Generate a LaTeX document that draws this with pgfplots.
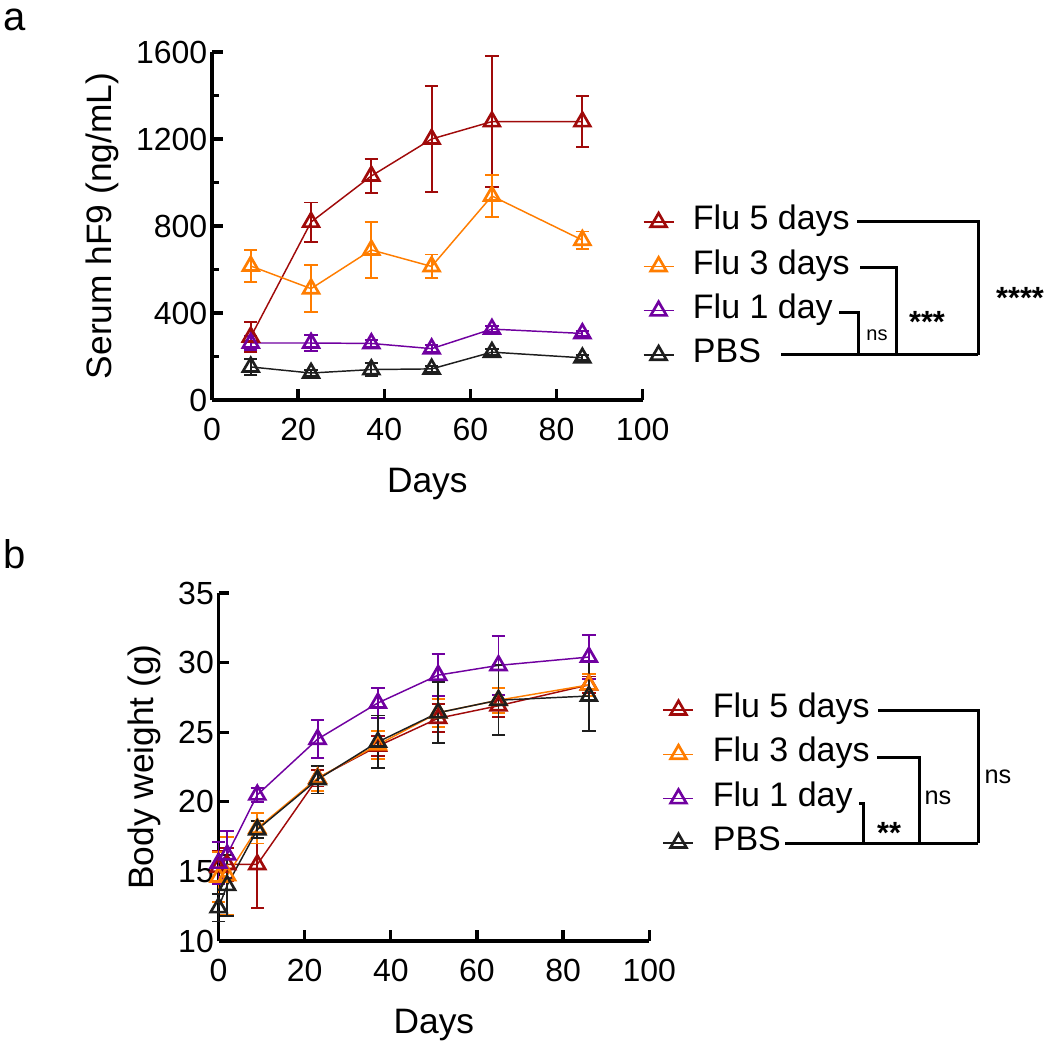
\documentclass[border=0pt]{standalone}
\usepackage{fontspec}
\setmainfont{Liberation Sans}
\usepackage{pgfplots}
\pgfplotsset{compat=1.18}

\definecolor{cFive}{RGB}{160,10,10}
\definecolor{cThree}{RGB}{255,125,0}
\definecolor{cOne}{RGB}{112,0,160}
\definecolor{cPBS}{RGB}{30,30,30}

\pgfplotsset{
  panel/.style={
    scale only axis, width=323pt, height=261pt,
    axis x line*=bottom, axis y line*=left,
    axis line style={line width=2.5pt, black},
    tick style={line width=2.5pt, black},
    tick align=inside,
    major tick length=8pt, minor tick length=5pt,
    xmin=0, xmax=100, xtick={0,20,...,100},
    ticklabel style={font=\fontsize{24}{28}\selectfont},
    xticklabel style={yshift=-10pt},
    /pgf/number format/assume math mode=true,
    /pgf/number format/1000 sep={},
    label style={font=\fontsize{26.5}{30}\selectfont},
    xlabel style={yshift=-14pt},
    ylabel style={yshift=6pt},
    xlabel={Days},
    clip=false,
    legend style={draw=none, fill=none, inner sep=0pt, row sep=10.75pt, column sep=14pt,
      nodes={inner sep=0pt, text height=17pt, text depth=5.5pt, anchor=west},
      font=\fontsize{25.5}{29}\selectfont},
    legend cell align=left,
    legend image code/.code={\draw[mark repeat=2, mark phase=2, line width=1pt]
      plot coordinates {(0pt,0pt) (11.25pt,0pt) (22.5pt,0pt)};},
  },
  grp/.style={color=#1, line width=1.1pt, mark=triangle, mark size=6.8pt,
    mark options={line width=2pt, solid},
    error bars/y dir=both, error bars/y explicit,
    error bars/error bar style={line width=1.4pt, color=#1},
    error bars/error mark options={rotate=90, mark size=5pt, line width=1.4pt, color=#1}},
}

\begin{document}
\begin{tikzpicture}
\useasboundingbox (0pt,0pt) rectangle (787.5pt,-780.75pt);

% panel a
\begin{axis}[panel, at={(159pt,-300pt)}, anchor=south west,
  ymin=0, ymax=1600, ytick={0,400,...,1600}, minor ytick={200,600,1000,1400},
  ylabel={Serum hF9 (ng/mL)},
  legend style={at={(axis description cs:1.0,0.32)}, anchor=west}]
\addplot[grp=cFive] table[x=d, y=v, y error=e] {
d v e
9 290 70
23 818 90
37 1030 80
51 1200 245
65 1280 300
86 1280 117
};
\addplot[grp=cThree] table[x=d, y=v, y error=e] {
d v e
9 616 73
23 512 107
37 690 130
51 614 55
65 938 95
86 735 40
};
\addplot[grp=cOne] table[x=d, y=v, y error=e] {
d v e
9 262 32
23 262 35
37 260 15
51 236 15
65 326 15
86 306 12
};
\addplot[grp=cPBS] table[x=d, y=v, y error=e] {
d v e
9 152 38
23 124 15
37 140 30
51 143 15
65 220 15
86 194 12
};
\legend{Flu 5 days, Flu 3 days, Flu 1 day, PBS}
\end{axis}

% panel b
\begin{axis}[panel, at={(163.9pt,-705.75pt)}, anchor=south west,
  ymin=10, ymax=35, ytick={10,15,...,35},
  ylabel={Body weight (g)},
  legend style={at={(axis description cs:1.031,0.473)}, anchor=west}]
\addplot[grp=cFive] table[x=d, y=v, y error=e] {
d v e
0 15.3 1.2
2 15.5 1.2
9 15.5 3.1
23 21.7 0.6
37 24.0 0.7
51 26.0 1.0
65 26.9 0.8
86 28.4 0.6
};
\addplot[grp=cThree] table[x=d, y=v, y error=e] {
d v e
0 14.6 1.8
2 14.7 2.8
9 18.1 1.1
23 21.7 0.9
37 24.1 1.0
51 26.4 1.0
65 27.3 0.9
86 28.4 0.8
};
\addplot[grp=cOne] table[x=d, y=v, y error=e] {
d v e
0 15.6 1.5
2 16.2 1.7
9 20.5 0.5
23 24.5 1.35
37 27.1 1.1
51 29.1 1.5
65 29.8 2.1
86 30.4 1.6
};
\addplot[grp=cPBS] table[x=d, y=v, y error=e] {
d v e
0 12.4 1.0
2 14.0 2.2
9 18.0 0.6
23 21.6 1.0
37 24.3 1.9
51 26.4 2.2
65 27.3 2.5
86 27.6 2.5
};
\legend{Flu 5 days, Flu 3 days, Flu 1 day, PBS}
\end{axis}

% panel letters, significance brackets
\begin{scope}[x=0.75pt, y=-0.75pt, line width=2.25pt]
\node[anchor=base west, inner sep=0pt, font=\fontsize{30}{34}\selectfont] at (2,31) {a};
\node[anchor=base west, inner sep=0pt, font=\fontsize{30}{34}\selectfont] at (2,568) {b};

\draw (857,222) -- (978,222) -- (978,355);
\draw (860,268) -- (896,268) -- (896,355);
\draw (839,313) -- (858,313) -- (858,355);
\draw (781,355) -- (978,355);
\node[inner sep=0pt, font=\fontsize{15}{17}\selectfont] at (877,335) {ns};
\node[anchor=base, inner sep=0pt, font=\bfseries\fontsize{23}{26}\selectfont] at (927,333) {***};
\node[anchor=base, inner sep=0pt, font=\bfseries\fontsize{23}{26}\selectfont] at (1020,309) {****};

\draw (878,710) -- (978,710) -- (978,843);
\draw (877,757) -- (919,757) -- (919,843);
\draw (859,803) -- (863,803) -- (863,843);
\draw (785,843) -- (978,843);
\node[anchor=base, inner sep=0pt, font=\bfseries\fontsize{23}{26}\selectfont] at (889,843) {**};
\node[inner sep=0pt, font=\fontsize{19}{21}\selectfont] at (938,798) {ns};
\node[inner sep=0pt, font=\fontsize{19}{21}\selectfont] at (998,777) {ns};
\end{scope}
\end{tikzpicture}
\end{document}
